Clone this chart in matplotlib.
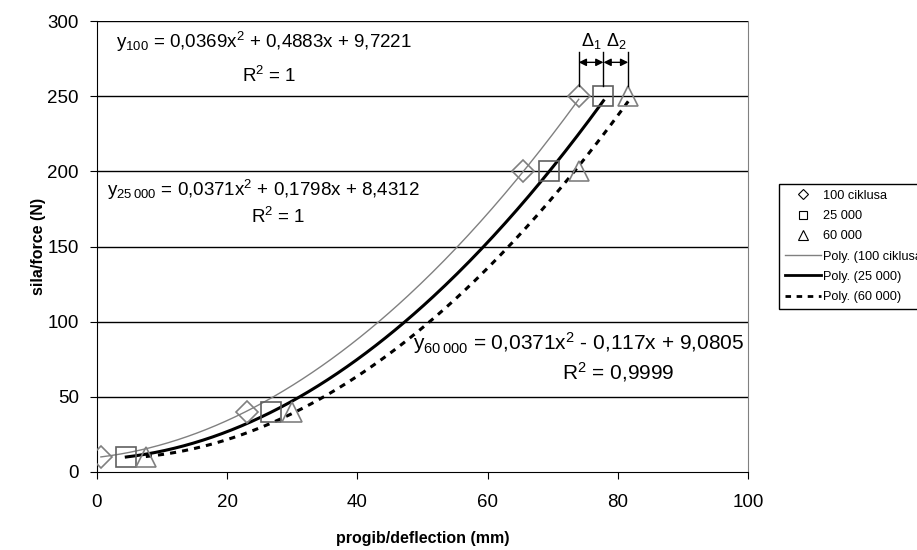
import numpy as np
import matplotlib
matplotlib.use("Agg")
import matplotlib.pyplot as plt
from matplotlib.lines import Line2D

plt.rcParams['font.family'] = ['Liberation Sans', 'DejaVu Sans']
plt.rcParams['mathtext.fontset'] = 'custom'
plt.rcParams['mathtext.rm'] = 'Liberation Sans'
plt.rcParams['mathtext.default'] = 'regular'

# ---- data ----
force = [10, 40, 200, 250]
x_100 = [0.6, 23.0, 65.5, 74.0]
x_25k = [4.5, 26.8, 69.5, 77.8]
x_60k = [7.5, 30.0, 74.0, 81.6]
coef_100 = [0.0369, 0.4883, 9.7221]
coef_25k = [0.0371, 0.1798, 8.4312]
coef_60k = [0.0371, -0.117, 9.0805]
labels = ['100 ciklusa', '25 000', '60 000',
          'Poly. (100 ciklusa)', 'Poly. (25 000)', 'Poly. (60 000)']
xticks = [0, 20, 40, 60, 80, 100]
yticks = [0, 50, 100, 150, 200, 250, 300]

fig = plt.figure(figsize=(9.17, 5.5), dpi=100)
ax = fig.add_axes([97/917, 78/550, 651/917, 451/550])
ax.set_xlim(0, 100)
ax.set_ylim(0, 300)

gray = '#808080'
# trend lines
for xs, c, kw in [(x_100, coef_100, dict(color=gray, lw=1.0)),
                  (x_25k, coef_25k, dict(color='black', lw=2.2)),
                  (x_60k, coef_60k, dict(color='black', lw=2.2, ls=(0, (2, 2))))]:
    xx = np.linspace(xs[0], xs[-1], 200)
    ax.plot(xx, np.polyval(c, xx), zorder=3, **kw)

ax.plot(x_100, force, ls='none', marker='D', ms=11, mfc='none', mec=gray, mew=1.2, zorder=4)
ax.plot(x_25k, force, ls='none', marker='s', ms=15, mfc='none', mec='#606060', mew=1.2, zorder=4)
ax.plot(x_60k, force, ls='none', marker='^', ms=15, mfc='none', mec=gray, mew=1.2, zorder=4)

# grid
for yv in yticks[1:]:
    ax.axhline(yv, color='black', lw=1.0, zorder=1)

ax.spines['top'].set_visible(False)
ax.spines['right'].set_color(gray)
ax.spines['left'].set_color('black')
ax.spines['bottom'].set_color('black')

ax.set_xticks(xticks)
ax.set_yticks(yticks)
ax.tick_params(direction='out', length=5, labelsize=13.5, colors='black')
ax.tick_params(axis='x', pad=11)
ax.tick_params(axis='y', pad=8)
ax.set_xlabel('progib/deflection (mm)', fontsize=11.5, fontweight='bold', labelpad=14)
ax.set_ylabel('sila/force (N)', fontsize=11.5, fontweight='bold', labelpad=1)

# equations
fs = 13.5
ax.text(2.9, 286, 'y$_{100}$ = 0,0369x$^{2}$ + 0,4883x + 9,7221', fontsize=fs, ha='left', va='center')
ax.text(22.2, 263.5, 'R$^{2}$ = 1', fontsize=fs, ha='left', va='center')
ax.text(1.5, 187.5, 'y$_{25\\,000}$ = 0,0371x$^{2}$ + 0,1798x + 8,4312', fontsize=fs, ha='left', va='center')
ax.text(23.7, 169.5, 'R$^{2}$ = 1', fontsize=fs, ha='left', va='center')
fs3 = 15
ax.text(48.5, 86, 'y$_{60\\,000}$ = 0,0371x$^{2}$ - 0,117x + 9,0805', fontsize=fs3, ha='left', va='center')
ax.text(71.4, 66.5, 'R$^{2}$ = 0,9999', fontsize=fs3, ha='left', va='center')

# delta annotations
xd = [x_100[-1], x_25k[-1], x_60k[-1]]
for xv in xd:
    ax.plot([xv, xv], [257, 279.5], color='black', lw=1.0, zorder=5)
for a, b in [(xd[0], xd[1]), (xd[1], xd[2])]:
    ax.annotate('', xy=(a, 272.5), xytext=(b, 272.5),
                arrowprops=dict(arrowstyle='<|-|>', color='black', lw=1.0,
                                shrinkA=0, shrinkB=0, mutation_scale=11))
ax.text((xd[0]+xd[1])/2, 286.5, '$\\Delta_1$', fontsize=13, ha='center', va='center')
ax.text((xd[1]+xd[2])/2, 286.5, '$\\Delta_2$', fontsize=13, ha='center', va='center')

# legend
handles = [
    Line2D([], [], ls='none', marker='D', ms=5, mfc='none', mec='black', mew=0.8),
    Line2D([], [], ls='none', marker='s', ms=6, mfc='none', mec='black', mew=0.8),
    Line2D([], [], ls='none', marker='^', ms=6.5, mfc='none', mec='black', mew=0.8),
    Line2D([], [], color=gray, lw=1.0),
    Line2D([], [], color='black', lw=2.0),
    Line2D([], [], color='black', lw=2.0, ls=(0, (2, 2))),
]
leg = fig.legend(handles, labels, loc='upper left', bbox_to_anchor=(779/917, 1-184/550),
                 bbox_transform=fig.transFigure, borderaxespad=0, fontsize=9.2,
                 frameon=True, fancybox=False, edgecolor='black', framealpha=1,
                 handlelength=2.8, handletextpad=0.2, labelspacing=0.65,
                 borderpad=0.45)
leg.get_frame().set_linewidth(1.0)

fig.savefig('out.png', dpi=100)
